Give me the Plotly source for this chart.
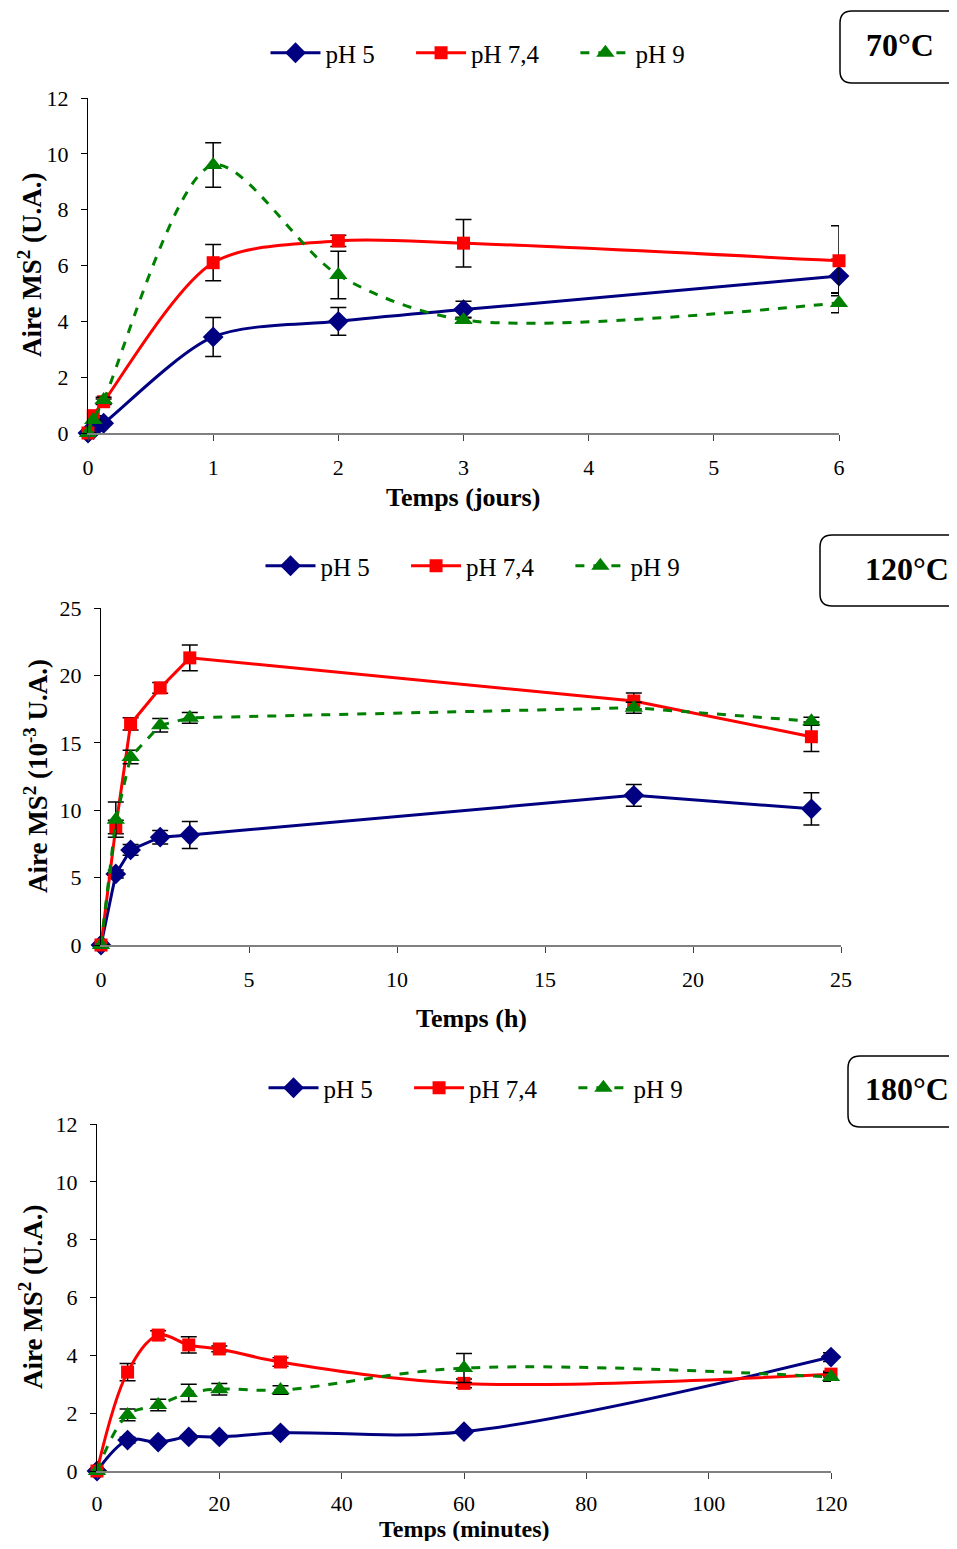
import plotly.graph_objects as go

PAGE_W, PAGE_H = 957, 1549
OFF = 8  # default body margin of the page
W, H = PAGE_W - 2 * OFF, PAGE_H - 2 * OFF
FONT = "Liberation Serif"
NB = "\u00a0"
NAMES = ["pH 5" + NB * 5, "pH 7,4" + NB * 5, "pH 9"]
COLORS = ["#000080", "#FF0000", "#008000"]
SYMBOLS = ["diamond", "square", "triangle-up"]
DASHES = ["solid", "solid", "dash"]

# ---- 70 °C (days) ----
t70 = [0, 0.042, 0.125, 1, 2, 3, 6]
ph5_70 = [0, 0.12, 0.35, 3.44, 4.0, 4.42, 5.62]
ph5_70_err = [0, 0, 0.05, 0.7, 0.5, 0.3, 0.6]
ph74_70 = [0, 0.62, 1.12, 6.1, 6.88, 6.8, 6.17]
ph74_70_err = [0, 0, 0.1, 0.65, 0.2, 0.85, 1.25]
ph9_70 = [0, 0.47, 1.18, 9.6, 5.66, 4.05, 4.66]
ph9_70_err = [0, 0, 0.1, 0.8, 0.85, 0.1, 0.35]

# ---- 120 °C (hours) ----
t120 = [0, 0.5, 1, 2, 3, 18, 24]
ph5_120 = [0, 5.27, 7.05, 8.0, 8.16, 11.1, 10.1]
ph5_120_err = [0, 0.3, 0.4, 0.5, 1.0, 0.8, 1.2]
ph74_120 = [0, 8.75, 16.4, 19.07, 21.3, 18.1, 15.45]
ph74_120_err = [0, 0.5, 0.45, 0.4, 0.95, 0.6, 1.1]
ph9_120 = [0, 9.3, 13.95, 16.3, 16.85, 17.6, 16.6]
ph9_120_err = [0, 1.3, 0.5, 0.5, 0.4, 0.4, 0.3]

# ---- 180 °C (minutes) ----
t180 = [0, 5, 10, 15, 20, 30, 60, 120]
ph5_180 = [0, 1.07, 1.0, 1.18, 1.18, 1.32, 1.36, 3.94]
ph5_180_err = [0, 0.1, 0.05, 0.05, 0.05, 0.05, 0.05, 0.15]
ph74_180 = [0, 3.42, 4.7, 4.36, 4.22, 3.77, 3.03, 3.35]
ph74_180_err = [0, 0.3, 0.15, 0.28, 0.1, 0.15, 0.15, 0.1]
ph9_180 = [0, 1.94, 2.28, 2.7, 2.83, 2.8, 3.56, 3.25]
ph9_180_err = [0, 0.2, 0.2, 0.3, 0.2, 0.15, 0.5, 0.15]

panels = [
    dict(x=t70, ys=[ph5_70, ph74_70, ph9_70], errs=[ph5_70_err, ph74_70_err, ph9_70_err],
         shape="spline", smooth=0.85, xr=[0, 6], xdt=1, yr=[0, 12], ydt=2,
         px=(88, 839), py=(98, 433), xtitle="Temps (jours)", xt=(463, 497), xts=26, tls=8,
         ytitle="Aire MS<sup>2</sup> (U.A.)", yt=(30, 265), legend="legend", leg=(478, 53),
         box=(840, 11, 975, 83), label="70°C", lab=(900, 45)),
    dict(x=t120, ys=[ph5_120, ph74_120, ph9_120], errs=[ph5_120_err, ph74_120_err, ph9_120_err],
         shape="linear", smooth=0, xr=[0, 25], xdt=5, yr=[0, 25], ydt=5,
         px=(101, 841), py=(608, 945), xtitle="Temps (h)", xt=(471, 1018), xts=26, tls=8,
         ytitle="Aire MS<sup>2</sup> (10<sup>-3</sup> U.A.)", yt=(36, 776), legend="legend2", leg=(473, 566),
         box=(820, 535, 975, 606), label="120°C", lab=(907, 569)),
    dict(x=t180, ys=[ph5_180, ph74_180, ph9_180], errs=[ph5_180_err, ph74_180_err, ph9_180_err],
         shape="spline", smooth=1.0, xr=[0, 120], xdt=20, yr=[0, 12], ydt=2,
         px=(97, 831), py=(1124, 1471), xtitle="Temps (minutes)", xt=(464, 1529), xts=24, tls=6,
         ytitle="Aire MS<sup>2</sup> (U.A.)", yt=(31, 1297), legend="legend3", leg=(476, 1088),
         box=(848, 1056, 975, 1127), label="180°C", lab=(907, 1089)),
]

def fx(px):
    return (px - OFF) / W

def fy(py):
    return 1 - (py - OFF) / H

fig = go.Figure()
layout = dict(width=W, height=H, margin=dict(l=0, r=0, t=0, b=0, autoexpand=False),
              paper_bgcolor="white", plot_bgcolor="white",
              font=dict(family=FONT, color="black"), shapes=[], annotations=[])

for i, p in enumerate(panels):
    n = "" if i == 0 else str(i + 1)
    xa, ya = "x" + n, "y" + n
    for k in range(3):
        fig.add_trace(go.Scatter(
            x=p["x"], y=p["ys"][k], name=NAMES[k], xaxis=xa, yaxis=ya,
            mode="lines+markers", legend=p["legend"], cliponaxis=False,
            line=dict(color=COLORS[k], width=3, dash=DASHES[k], shape=p["shape"],
                      smoothing=p["smooth"] if p["shape"] == "spline" else None),
            marker=dict(symbol=SYMBOLS[k], color=COLORS[k], size=[16, 13, 16][k]),
            error_y=dict(type="data", array=p["errs"][k], color="black", thickness=1.5, width=8),
        ))
    layout["xaxis" + n] = dict(
        domain=[fx(p["px"][0]), fx(p["px"][1])], range=p["xr"], anchor=ya,
        dtick=p["xdt"], tick0=0, showgrid=False, zeroline=False, automargin=False,
        showline=True, linecolor="#808080", linewidth=1.5,
        ticks="outside", ticklen=6, tickcolor="#404040", ticklabelstandoff=p["tls"],
        tickfont=dict(family=FONT, size=22),
    )
    layout["yaxis" + n] = dict(
        domain=[fy(p["py"][1]), fy(p["py"][0])], range=p["yr"], anchor=xa,
        dtick=p["ydt"], tick0=0, showgrid=False, zeroline=False, automargin=False,
        showline=True, linecolor="black", linewidth=1,
        ticks="outside", ticklen=6, tickcolor="black", ticklabelstandoff=8,
        tickfont=dict(family=FONT, size=22),
    )
    layout[p["legend"]] = dict(
        orientation="h", x=fx(p["leg"][0]), y=fy(p["leg"][1]),
        xanchor="center", yanchor="middle", font=dict(family=FONT, size=25),
        bgcolor="rgba(0,0,0,0)", itemwidth=50, tracegroupgap=0,
    )
    # axis titles
    layout["annotations"].append(dict(text="<b>" + p["xtitle"] + "</b>", x=fx(p["xt"][0]), y=fy(p["xt"][1]),
                                      xref="paper", yref="paper", showarrow=False,
                                      xanchor="center", yanchor="middle",
                                      font=dict(family=FONT, size=p["xts"])))
    layout["annotations"].append(dict(text="<b>" + p["ytitle"] + "</b>", x=fx(p["yt"][0]), y=fy(p["yt"][1]),
                                      xref="paper", yref="paper", showarrow=False, textangle=-90,
                                      xanchor="center", yanchor="middle",
                                      font=dict(family=FONT, size=27)))
    l, t, r, b = p["box"]
    rad = 12
    path = (f"M {fx(l + rad)},{fy(t)} L {fx(r - rad)},{fy(t)} "
            f"Q {fx(r)},{fy(t)} {fx(r)},{fy(t + rad)} L {fx(r)},{fy(b - rad)} "
            f"Q {fx(r)},{fy(b)} {fx(r - rad)},{fy(b)} L {fx(l + rad)},{fy(b)} "
            f"Q {fx(l)},{fy(b)} {fx(l)},{fy(b - rad)} L {fx(l)},{fy(t + rad)} "
            f"Q {fx(l)},{fy(t)} {fx(l + rad)},{fy(t)} Z")
    layout["shapes"].append(dict(type="path", path=path, xref="paper", yref="paper",
                                 line=dict(color="black", width=1.5)))
    layout["annotations"].append(dict(text="<b>" + p["label"] + "</b>", x=fx(p["lab"][0]), y=fy(p["lab"][1]),
                                      xref="paper", yref="paper", showarrow=False,
                                      xanchor="center", yanchor="middle",
                                      font=dict(family=FONT, size=32)))

fig.update_layout(**layout)
fig.write_html("out.html")
